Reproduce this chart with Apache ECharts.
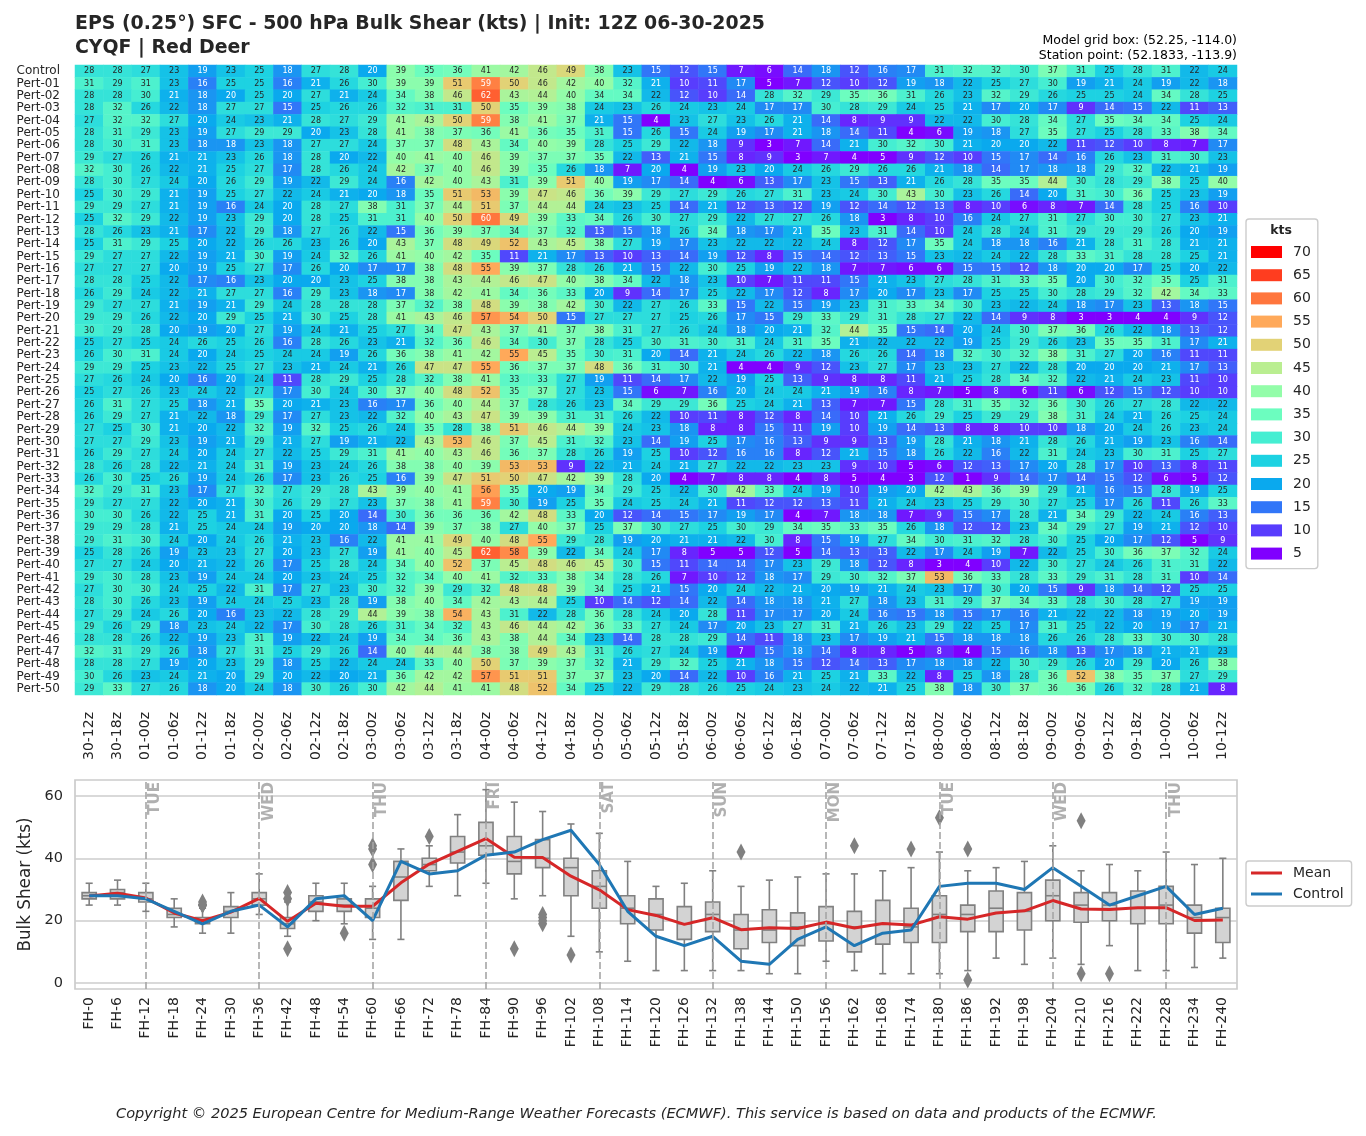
<!DOCTYPE html>
<html>
<head>
<meta charset="utf-8">
<title>EPS Bulk Shear</title>
<script src="https://cdn.jsdelivr.net/npm/echarts@6/dist/echarts.min.js"></script>
<style>
  html, body { margin: 0; padding: 0; background: #fff; }
  #container { width: 1366px; height: 1136px; }
</style>
</head>
<body>
<div id="container"></div>
<script>
// valid times across the top panel, forecast hours across the bottom one
var timeLabels = ["30-12z","30-18z","01-00z","01-06z","01-12z","01-18z","02-00z","02-06z","02-12z","02-18z","03-00z","03-06z","03-12z","03-18z","04-00z","04-06z","04-12z","04-18z","05-00z","05-06z","05-12z","05-18z","06-00z","06-06z","06-12z","06-18z","07-00z","07-06z","07-12z","07-18z","08-00z","08-06z","08-12z","08-18z","09-00z","09-06z","09-12z","09-18z","10-00z","10-06z","10-12z"];
var fhLabels = ["FH-0","FH-6","FH-12","FH-18","FH-24","FH-30","FH-36","FH-42","FH-48","FH-54","FH-60","FH-66","FH-72","FH-78","FH-84","FH-90","FH-96","FH-102","FH-108","FH-114","FH-120","FH-126","FH-132","FH-138","FH-144","FH-150","FH-156","FH-162","FH-168","FH-174","FH-180","FH-186","FH-192","FH-198","FH-204","FH-210","FH-216","FH-222","FH-228","FH-234","FH-240"];

var control = [28,28,27,23,19,23,25,18,27,28,20,39,35,36,41,42,46,49,38,23,15,12,15,7,6,14,18,12,16,17,31,32,32,30,37,31,25,28,31,22,24];

// Pert-01 .. Pert-50
var perts = [
[31,29,31,23,16,25,25,16,21,26,30,39,39,51,59,50,46,42,40,32,21,10,11,17,5,7,12,10,12,19,18,22,25,27,30,19,21,24,19,22,18],
[28,28,30,21,18,20,25,20,27,21,24,34,38,46,62,43,44,40,34,34,22,12,10,14,28,32,29,35,36,31,26,23,32,29,26,25,25,24,34,28,25],
[28,32,26,22,18,27,27,15,25,26,26,32,31,31,50,35,39,38,24,23,26,24,23,24,17,17,30,28,29,24,25,21,17,20,17,9,14,15,22,11,13],
[27,32,32,27,20,24,23,21,28,27,29,41,43,50,59,38,41,37,21,15,4,23,27,23,26,21,14,8,9,9,22,22,30,28,34,27,35,34,34,25,24],
[28,31,29,23,19,27,29,29,20,23,28,41,38,37,36,41,36,35,31,15,26,15,24,19,17,21,18,14,11,4,6,19,18,27,35,27,25,28,33,38,34],
[28,30,31,23,18,18,23,18,27,27,24,37,37,48,43,34,40,39,28,25,29,22,18,9,3,7,14,21,30,32,30,21,20,20,22,11,12,10,8,7,17],
[29,27,26,21,21,23,26,18,28,20,22,40,41,40,46,39,37,37,35,22,13,21,15,8,9,3,7,4,5,9,12,10,15,17,14,16,26,23,31,30,23],
[32,30,26,22,21,25,27,17,28,26,24,42,37,40,46,39,35,26,18,7,20,4,19,23,20,24,26,29,26,26,21,18,14,17,18,18,29,32,22,21,19],
[28,30,27,24,20,26,29,19,22,29,24,16,42,40,43,31,39,51,40,19,17,14,4,6,13,17,23,15,13,21,26,28,35,35,44,30,28,29,38,25,40],
[25,30,29,21,19,25,27,22,24,21,20,18,35,51,53,39,47,46,36,39,29,27,29,26,27,31,23,24,30,43,30,23,26,14,20,31,30,36,25,23,19],
[29,29,27,21,19,16,24,20,28,27,38,31,37,44,51,37,44,44,24,23,25,14,21,12,13,12,19,12,14,12,13,8,10,6,8,7,14,28,25,16,10],
[25,32,29,22,19,23,29,20,28,25,31,31,40,50,60,49,39,33,34,26,30,27,29,22,27,27,26,18,3,8,10,16,24,27,31,27,30,30,27,23,21],
[28,26,23,21,17,22,29,18,27,26,22,15,36,39,37,34,37,32,13,15,18,26,34,18,17,21,35,23,31,14,10,24,28,24,31,29,29,29,26,20,19],
[25,31,29,25,20,22,26,26,23,26,20,43,37,48,49,52,43,45,38,27,19,17,23,22,22,22,24,8,12,17,35,24,18,18,16,21,28,31,28,21,21],
[29,27,27,22,19,21,30,19,24,32,26,41,40,42,35,11,21,17,13,10,13,14,19,12,8,15,14,12,13,15,23,22,24,22,28,33,31,28,28,25,21],
[27,27,27,20,19,25,27,17,26,20,17,17,38,48,55,39,37,28,26,21,15,22,30,25,19,22,18,7,7,6,6,15,15,12,18,20,20,17,25,20,22],
[28,28,25,22,17,16,23,20,20,23,25,38,38,43,44,46,47,40,38,34,22,18,23,10,7,11,11,15,21,23,27,28,31,33,35,20,30,32,35,25,31],
[26,29,24,22,21,27,27,16,29,23,18,17,38,42,41,34,36,33,20,9,14,17,25,22,17,12,8,17,20,17,23,17,25,25,30,28,29,32,42,34,33],
[29,27,27,21,19,21,29,24,28,28,28,37,32,38,48,39,38,42,30,22,27,26,33,15,22,15,19,23,31,33,34,30,23,22,24,18,17,23,13,18,15],
[29,29,26,22,20,29,25,21,30,25,28,41,43,46,57,54,50,15,27,27,27,25,26,17,15,29,33,29,31,28,27,22,14,9,8,3,3,4,4,9,12],
[30,29,28,20,19,20,27,19,24,21,25,27,34,47,43,37,41,37,38,31,27,26,24,18,20,21,32,44,35,15,14,20,24,30,37,36,26,22,18,13,12],
[25,27,25,24,26,25,26,16,28,26,23,21,32,36,46,34,30,37,28,25,30,31,30,31,24,31,35,21,22,22,22,19,25,29,26,23,35,35,31,17,21],
[26,30,31,24,20,24,25,24,24,19,26,36,38,41,42,55,45,35,30,31,20,14,21,24,26,22,18,26,26,14,18,32,30,32,38,31,27,20,16,11,11],
[29,29,25,23,22,25,27,23,21,24,21,26,47,47,55,36,37,37,48,36,31,30,21,4,4,9,12,23,27,17,23,23,27,22,28,20,20,20,21,17,13],
[27,26,24,20,16,20,24,11,28,29,25,28,32,38,41,33,33,27,19,11,14,17,22,19,25,13,9,8,8,11,21,25,28,34,32,22,21,24,23,11,10],
[25,27,26,23,24,22,27,17,30,24,30,37,40,48,52,35,37,27,23,15,6,7,16,20,24,24,21,19,16,8,7,5,8,6,11,6,12,15,12,10,10],
[26,31,27,25,18,21,35,20,21,23,16,17,36,40,44,37,28,26,23,34,29,29,36,25,24,21,13,7,7,15,28,31,35,32,36,30,26,27,28,22,22],
[26,29,27,21,22,18,29,17,27,23,22,32,40,43,47,39,39,31,31,26,22,10,11,8,12,8,14,10,21,26,29,25,29,29,38,31,24,21,26,25,24],
[27,25,30,21,20,22,32,19,32,25,26,24,35,28,38,51,46,44,39,24,23,18,8,8,15,11,19,10,19,14,13,8,8,10,10,18,20,24,26,23,24],
[27,27,29,23,19,21,29,21,27,19,21,22,43,53,46,37,45,31,32,23,14,19,25,17,16,13,9,9,13,19,28,21,18,21,28,26,21,19,23,16,14],
[26,29,27,24,20,24,27,22,25,29,31,41,40,43,46,36,37,28,26,19,25,10,12,16,16,8,12,21,15,18,26,22,16,22,31,24,23,30,31,25,27],
[28,26,28,22,21,24,31,19,23,24,26,38,38,40,39,53,53,9,22,21,24,21,27,22,22,23,23,9,10,5,6,12,13,17,20,28,17,10,13,8,11],
[26,30,25,26,19,24,26,17,23,26,25,16,39,47,51,50,47,42,39,28,20,4,7,8,8,4,8,5,4,3,12,1,9,14,17,14,15,12,6,5,12],
[32,29,31,23,17,27,32,27,29,28,43,39,40,41,56,35,20,19,34,29,25,22,30,42,33,24,19,10,19,20,42,43,36,39,29,21,16,15,28,19,25],
[29,27,27,22,20,21,30,26,29,27,23,37,38,41,59,30,19,25,35,24,25,24,21,11,12,12,13,11,21,24,23,25,29,30,27,25,17,26,11,26,33],
[30,30,26,22,25,21,31,20,25,20,14,30,36,36,36,42,48,33,20,12,14,15,17,19,17,4,7,18,18,7,9,15,17,28,21,34,29,22,24,16,13],
[29,29,28,21,25,24,24,19,20,20,18,14,39,37,38,27,40,37,25,37,30,27,25,30,29,34,35,33,35,26,18,12,12,23,34,29,27,19,21,12,10],
[29,31,30,24,20,24,26,21,23,16,22,41,41,49,40,48,55,29,28,19,20,21,21,22,30,8,15,19,27,34,30,31,32,28,30,25,20,17,12,5,9],
[25,28,26,19,23,23,27,20,23,27,19,41,40,45,62,58,39,22,34,24,17,8,5,5,12,5,14,13,13,22,17,24,19,7,22,25,30,36,37,32,24],
[27,27,24,20,21,22,26,17,25,28,24,34,40,52,37,45,48,46,45,30,15,11,14,14,17,23,29,18,12,8,3,4,10,22,30,27,24,26,31,31,22],
[29,30,28,23,19,24,24,20,23,24,25,32,34,40,41,32,33,38,34,28,26,7,10,12,18,17,29,30,32,37,53,36,33,28,33,29,31,28,31,10,14],
[27,30,30,24,25,22,31,17,27,23,30,32,39,29,32,48,48,39,34,25,21,15,20,24,22,21,20,19,21,24,23,17,30,20,15,9,18,14,12,25,25],
[28,30,26,23,19,24,24,25,23,28,19,38,40,34,42,43,44,25,10,14,12,14,22,14,18,18,21,27,18,23,31,29,37,34,33,28,30,28,27,19,19],
[27,29,24,26,20,16,23,22,28,29,44,39,38,54,43,31,22,28,36,28,24,20,28,11,17,17,20,24,16,15,18,15,17,16,21,22,22,18,19,20,19],
[29,26,29,18,23,24,22,17,30,28,26,31,34,32,43,46,44,42,36,33,27,24,17,20,23,27,31,21,26,23,29,22,25,17,31,25,22,20,19,17,21],
[28,28,26,22,19,23,31,19,22,24,19,34,34,36,43,38,44,34,23,14,28,28,29,14,11,18,23,17,19,21,15,18,18,18,26,26,28,33,30,30,28],
[32,31,29,26,18,27,31,25,29,26,14,40,44,44,38,38,49,43,31,26,27,24,19,7,15,18,14,8,8,5,8,4,15,16,18,13,17,18,21,21,23],
[28,28,27,19,20,23,29,18,25,22,24,24,33,40,50,37,39,37,32,21,29,32,25,21,18,15,12,14,13,17,18,18,22,30,29,26,20,29,20,26,38],
[30,26,23,24,21,20,29,20,22,20,21,36,42,42,57,51,51,37,37,23,20,14,22,10,16,21,25,21,33,22,8,25,18,28,36,52,38,35,37,27,29],
[29,33,27,26,18,20,24,18,30,26,30,42,44,41,41,48,52,34,25,22,29,28,26,25,24,23,24,22,21,25,38,18,30,37,36,36,26,32,28,21,8]
];

// 00z boundaries in the bottom panel
var dayColumns = [2,6,10,14,18,22,26,30,34,38];
var dayNames = ["TUE","WED","THU","FRI","SAT","SUN","MON","TUE","WED","THU"];

// legend steps, top to bottom
var ktsSteps = [70,65,60,55,50,45,40,35,30,25,20,15,10,5];
// colour at 0,5,10 ... 70 kts
var ktsColors = ["#8000ff","#8000ff","#583dfd","#3176f8","#0aa9ee","#1dd2e2","#45eed2","#6cfdbf","#93fda9","#baee91","#e2d276","#ffa95a","#ff763d","#ff3d1f","#ff0000"];

var members = ["Control"];
perts.forEach(function (row, i) {
    members.push("Pert-" + (i + 1 < 10 ? "0" : "") + (i + 1));
});
var allRows = [control].concat(perts);

// heatmap cells
var cells = [];
allRows.forEach(function (row, r) {
    row.forEach(function (v, c) {
        var light = v <= 21 || v >= 59;
        cells.push({ value: [c, r, v], label: { color: light ? "#ffffff" : "#262626" } });
    });
});

// box statistics of each forecast hour, same rule as the source plot (1.5 IQR)
function quantile(sorted, p) {
    var h = (sorted.length - 1) * p, lo = Math.floor(h);
    return sorted[lo] + (h - lo) * ((sorted[lo + 1] === undefined ? sorted[lo] : sorted[lo + 1]) - sorted[lo]);
}
var boxes = [], fliers = [], means = [];
timeLabels.forEach(function (t, c) {
    var col = allRows.map(function (row) { return row[c]; }).sort(function (a, b) { return a - b; });
    var q1 = quantile(col, 0.25), q2 = quantile(col, 0.5), q3 = quantile(col, 0.75);
    var iqr = q3 - q1;
    var inside = col.filter(function (v) { return v >= q1 - 1.5 * iqr && v <= q3 + 1.5 * iqr; });
    boxes.push([c, inside[0], q1, q2, q3, inside[inside.length - 1]]);
    col.forEach(function (v) {
        if (v < inside[0] || v > inside[inside.length - 1]) fliers.push([c, v]);
    });
    means.push(col.reduce(function (a, b) { return a + b; }, 0) / col.length);
});

function renderBox(params, api) {
    var c = api.value(0);
    var bw = api.size([1, 0])[0] * 0.25;
    var style = { stroke: "#808080", lineWidth: 1.6, fill: null };
    var pMin = api.coord([c, api.value(1)]), pQ1 = api.coord([c, api.value(2)]);
    var pMed = api.coord([c, api.value(3)]), pQ3 = api.coord([c, api.value(4)]);
    var pMax = api.coord([c, api.value(5)]);
    function seg(x1, y1, x2, y2) {
        return { type: "line", shape: { x1: x1, y1: y1, x2: x2, y2: y2 }, style: style };
    }
    var x = pMed[0];
    return {
        type: "group",
        children: [
            seg(x, pMin[1], x, pQ1[1]),
            seg(x, pQ3[1], x, pMax[1]),
            seg(x - bw / 2, pMin[1], x + bw / 2, pMin[1]),
            seg(x - bw / 2, pMax[1], x + bw / 2, pMax[1]),
            { type: "rect", shape: { x: x - bw, y: pQ3[1], width: bw * 2, height: pQ1[1] - pQ3[1] },
              style: { fill: "#d3d3d3", stroke: "#808080", lineWidth: 1.6 } },
            seg(x - bw, pMed[1], x + bw, pMed[1])
        ]
    };
}

var textColor = "#262626";
var fontName = "DejaVu Sans";

var series = [
    {
        type: "heatmap",
        xAxisIndex: 0, yAxisIndex: 0,
        data: cells,
        progressive: 0,
        label: { show: true, fontSize: 8, fontFamily: fontName,
                 formatter: function (p) { return p.value[2]; } },
        emphasis: { disabled: true }
    },
    {
        type: "line", xAxisIndex: 1, yAxisIndex: 1, data: [], silent: true, z: 1,
        markLine: {
            silent: true, symbol: "none", animation: false,
            lineStyle: { color: "#a6a6a6", type: [7, 3], width: 1.6 },
            label: { show: true, position: "insideEndBottom", formatter: "{b}", color: "#b0b0b0",
                     fontWeight: "bold", fontSize: 15, fontFamily: fontName, distance: 2 },
            data: dayColumns.map(function (c, i) { return { xAxis: c, name: dayNames[i] }; })
        }
    },
    {
        type: "custom", name: "Boxes", xAxisIndex: 1, yAxisIndex: 1, z: 2, silent: true,
        renderItem: renderBox,
        encode: { x: 0, y: [1, 2, 3, 4, 5] },
        data: boxes
    },
    {
        type: "scatter", name: "Outliers", xAxisIndex: 1, yAxisIndex: 1, z: 2, silent: true,
        symbol: "diamond", symbolSize: [9, 17],
        itemStyle: { color: "#808080", opacity: 1 },
        data: fliers
    },
    {
        type: "line", name: "Mean", xAxisIndex: 1, yAxisIndex: 1, z: 3, showSymbol: false, silent: true,
        lineStyle: { color: "#d62728", width: 3 }, itemStyle: { color: "#d62728" },
        data: means
    },
    {
        type: "line", name: "Control", xAxisIndex: 1, yAxisIndex: 1, z: 3, showSymbol: false, silent: true,
        lineStyle: { color: "#1f77b4", width: 3 }, itemStyle: { color: "#1f77b4" },
        data: control
    }
];
// empty series only carry the kts legend swatches
ktsSteps.forEach(function (k) {
    series.push({
        type: "scatter", name: String(k), xAxisIndex: 1, yAxisIndex: 1, data: [],
        itemStyle: { color: ktsColors[k / 5], opacity: 1 }
    });
});

var myChart = echarts.init(document.getElementById("container"), null, { renderer: "canvas" });
myChart.setOption({
    animation: false,
    backgroundColor: "#ffffff",
    textStyle: { fontFamily: fontName, color: textColor },
    title: [
        { text: "EPS (0.25°) SFC - 500 hPa Bulk Shear (kts) | Init: 12Z 06-30-2025\nCYQF | Red Deer",
          left: 75, top: 12.5, padding: 0,
          textStyle: { fontSize: 18.9, fontWeight: "bold", color: textColor, lineHeight: 23.5, fontFamily: fontName } },
        { text: "Model grid box: (52.25, -114.0)\nStation point: (52.1833, -113.9)",
          left: 1237, top: 33, padding: 0, textAlign: "right",
          textStyle: { fontSize: 12.5, fontWeight: "normal", color: "#000000", lineHeight: 15, fontFamily: fontName } },
        { text: "kts", left: 1281, top: 224, padding: 0, textAlign: "center",
          textStyle: { fontSize: 12.5, fontWeight: "bold", color: textColor, fontFamily: fontName } },
        { text: "Copyright © 2025 European Centre for Medium-Range Weather Forecasts (ECMWF). This service is based on data and products of the ECMWF.",
          left: 636.5, top: 1107, padding: 0, textAlign: "center",
          textStyle: { fontSize: 14.55, fontWeight: "normal", fontStyle: "italic", color: textColor, fontFamily: fontName } }
    ],
    legend: [
        {
            orient: "vertical", left: 1246, top: 219, selectedMode: false,
            data: ktsSteps.map(String),
            icon: "rect", itemWidth: 31, itemHeight: 12, itemGap: 9.2,
            padding: [26, 7, 8, 5],
            backgroundColor: "#ffffff", borderColor: "#cccccc", borderWidth: 1.4, borderRadius: 3,
            textStyle: { fontSize: 14, color: textColor, fontFamily: fontName, padding: [0, 0, 0, 6] }
        },
        {
            orient: "vertical", left: 1246, top: 861, selectedMode: false,
            data: ["Mean", "Control"],
            icon: "rect", itemWidth: 31, itemHeight: 3, itemGap: 7,
            padding: [5, 8, 5, 5],
            backgroundColor: "#ffffff", borderColor: "#cccccc", borderWidth: 1.4, borderRadius: 3,
            textStyle: { fontSize: 14, color: textColor, fontFamily: fontName, padding: [0, 0, 0, 6] }
        }
    ],
    visualMap: {
        show: false, type: "continuous", seriesIndex: 0, dimension: 2,
        min: 0, max: 70, inRange: { color: ktsColors }
    },
    grid: [
        { left: 75, top: 65, width: 1162, height: 630 },
        { left: 75, top: 780, width: 1162, height: 209, show: true, borderColor: "#cccccc", borderWidth: 1.7, backgroundColor: "transparent" }
    ],
    xAxis: [
        { type: "category", gridIndex: 0, data: timeLabels, position: "bottom",
          axisLine: { show: false }, axisTick: { show: false }, splitLine: { show: false },
          axisLabel: { rotate: 90, interval: 0, margin: 17, fontSize: 14, color: textColor, fontFamily: fontName } },
        { type: "category", gridIndex: 1, data: fhLabels,
          axisLine: { show: false }, axisTick: { show: false }, splitLine: { show: false },
          axisLabel: { rotate: 90, interval: 0, margin: 8, fontSize: 14, color: textColor, fontFamily: fontName } }
    ],
    yAxis: [
        { type: "category", gridIndex: 0, data: members, inverse: true,
          axisLine: { show: false }, axisTick: { show: false }, splitLine: { show: false },
          axisLabel: { interval: 0, margin: 15, fontSize: 12, color: textColor, fontFamily: fontName } },
        { type: "value", gridIndex: 1, min: -1.9, max: 65.1,
          name: "Bulk Shear (kts)", nameLocation: "middle", nameGap: 41,
          nameTextStyle: { fontSize: 16.8, color: textColor, fontFamily: fontName },
          axisLine: { show: false },
          axisTick: { show: false, customValues: [0, 20, 40, 60] },
          splitLine: { show: true, lineStyle: { color: "#cccccc", width: 1.7 } },
          axisLabel: { customValues: [0, 20, 40, 60], margin: 12, fontSize: 14.5, color: textColor, fontFamily: fontName } }
    ],
    series: series
});
</script>
</body>
</html>
